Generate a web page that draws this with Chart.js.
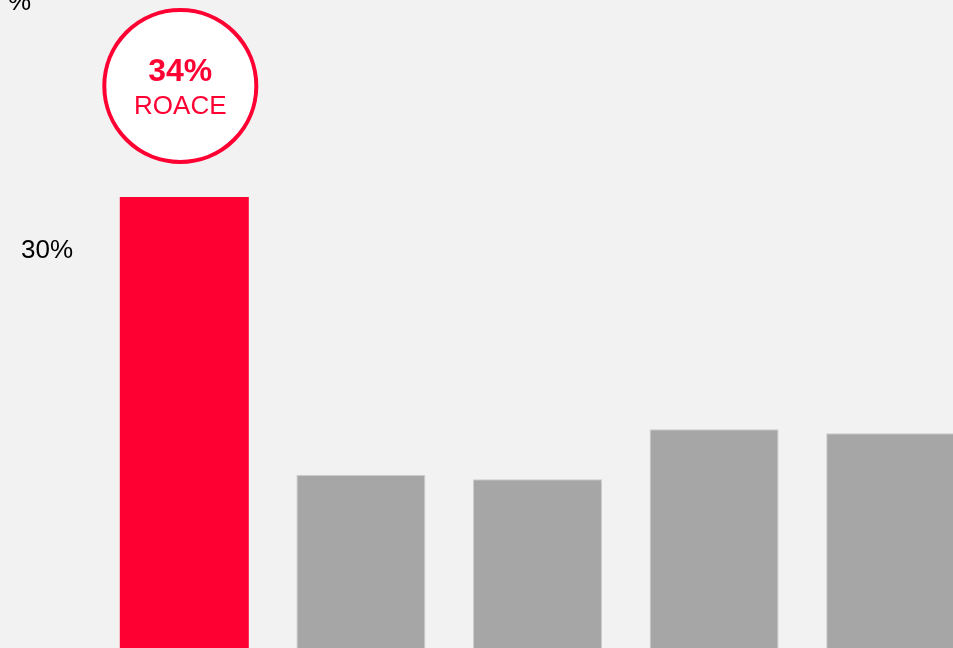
<!DOCTYPE html>
<html>
<head>
<meta charset="utf-8">
<script src="https://cdn.jsdelivr.net/npm/chart.js@4.4.1/dist/chart.umd.min.js"></script>
<style>
  body { margin: 0; background: #f2f2f2; overflow: hidden; }
  #wrap { position: absolute; left: 0; top: 0; width: 985px; height: 700px; }
</style>
</head>
<body>
<div id="wrap"><canvas id="roaceChart"></canvas></div>
<script>
const categories = ['Company', 'Peer A', 'Peer B', 'Peer C', 'Peer D'];
const roace = [34, 13.4, 13.1, 16.8, 16.5];
const yTicks = [30];
const unitLabel = '%';
const highlightLabel = 'ROACE';

const RED = '#ff0033';
const GREY = '#a6a6a6';
const FONT = '"Liberation Sans", Arial, sans-serif';

// circle callout over the first bar, plus the unit label in the corner
const callout = {
    id: 'callout',
    afterDatasetsDraw(chart) {
        const ctx = chart.ctx;
        const bar = chart.getDatasetMeta(0).data[0];
        const cx = bar.x - 4;
        const cy = bar.y - 111;
        ctx.save();
        ctx.beginPath();
        ctx.arc(cx, cy, 76, 0, Math.PI * 2);
        ctx.fillStyle = '#ffffff';
        ctx.fill();
        ctx.lineWidth = 4;
        ctx.strokeStyle = RED;
        ctx.stroke();

        ctx.fillStyle = RED;
        ctx.textAlign = 'center';
        ctx.textBaseline = 'middle';
        ctx.font = 'bold 32px ' + FONT;
        ctx.fillText(roace[0] + '%', cx, cy - 14);
        ctx.font = '26px ' + FONT;
        ctx.fillText(highlightLabel, cx, cy + 21);

        ctx.fillStyle = '#000000';
        ctx.textAlign = 'left';
        ctx.textBaseline = 'alphabetic';
        ctx.font = '26px ' + FONT;
        ctx.fillText(unitLabel, 8, 10);
        ctx.restore();
    }
};

const ctx = document.getElementById('roaceChart').getContext('2d');

const myChart = new Chart(ctx, {
    type: 'bar',
    data: {
        labels: categories,
        datasets: [{
            data: roace,
            backgroundColor: roace.map((v, i) => i === 0 ? RED : GREY),
            borderColor: roace.map((v, i) => i === 0 ? RED : '#cccccc'),
            borderWidth: roace.map((v, i) => i === 0 ? 0 : 1),
            categoryPercentage: 1,
            barPercentage: 0.7305
        }]
    },
    options: {
        responsive: true,
        maintainAspectRatio: false,
        animation: false,
        layout: { padding: { top: 8, bottom: 44, right: 6, left: 0 } },
        plugins: {
            legend: { display: false },
            tooltip: { enabled: false }
        },
        scales: {
            x: { display: false },
            y: {
                min: 0,
                max: 48,
                border: { display: false },
                grid: { display: false },
                afterBuildTicks: scale => { scale.ticks = yTicks.map(v => ({ value: v })); },
                afterFit: scale => {
                    scale.width = 96;
                    scale.paddingTop = 0;
                    scale.paddingBottom = 0;
                },
                ticks: {
                    padding: 15,
                    color: '#000000',
                    font: { family: FONT, size: 26 },
                    callback: v => v + '%'
                }
            }
        }
    },
    plugins: [callout]
});
</script>
</body>
</html>
